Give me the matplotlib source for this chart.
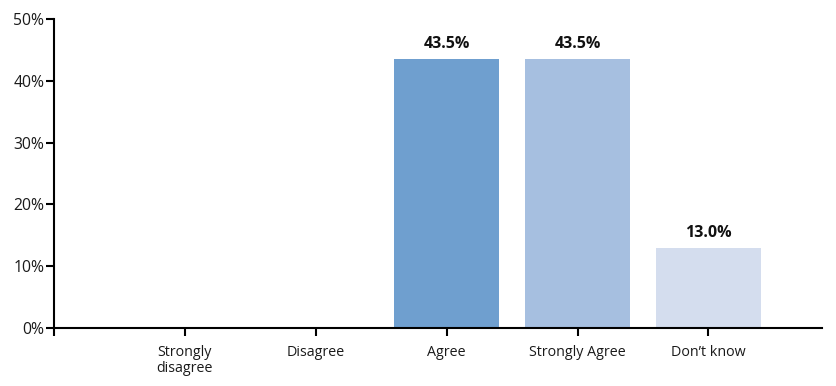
import matplotlib.pyplot as plt
from matplotlib.ticker import FixedLocator

plt.rcParams['font.family'] = ['Open Sans', 'DejaVu Sans']

categories = ["Strongly\ndisagree", "Disagree", "Agree", "Strongly Agree", "Don\u2019t know"]
shares = [0.0, 0.0, 43.5, 43.5, 13.0]
colors = ["#6f9fcf", "#6f9fcf", "#6f9fcf", "#a6bfe0", "#d4ddee"]

fig = plt.figure(figsize=(8.37, 3.86), dpi=100)
ax = fig.add_axes([0.0645, 0.150, 0.918, 0.801])

pos = list(range(1, len(categories) + 1))
bars = ax.bar(pos, shares, width=0.8, color=colors)

for b, v in zip(bars, shares):
    if v > 0:
        ax.annotate(f"{v:.1f}%", (b.get_x() + b.get_width() / 2, v),
                    xytext=(0, 5), textcoords="offset points",
                    ha="center", va="bottom", fontsize=11.5, fontweight="bold",
                    color="#111111")

ax.set_xlim(0, 5.87)
ax.set_ylim(0, 50)
ax.set_xticks(pos)
ax.set_xticklabels(categories, fontsize=10.3, color="#1a1a1a", va="top",
                   linespacing=1.15)
ax.xaxis.set_minor_locator(FixedLocator([0]))
ax.set_yticks(range(0, 51, 10))
ax.set_yticklabels([f"{t}%" for t in range(0, 51, 10)], fontsize=11.3, color="#1a1a1a")

for s in ["top", "right"]:
    ax.spines[s].set_visible(False)
for s in ["left", "bottom"]:
    ax.spines[s].set_linewidth(1.5)
ax.tick_params(axis="both", which="both", length=6, width=1.5, pad=1)
ax.tick_params(axis="x", which="major", pad=6)

fig.savefig("out.png", dpi=100)
